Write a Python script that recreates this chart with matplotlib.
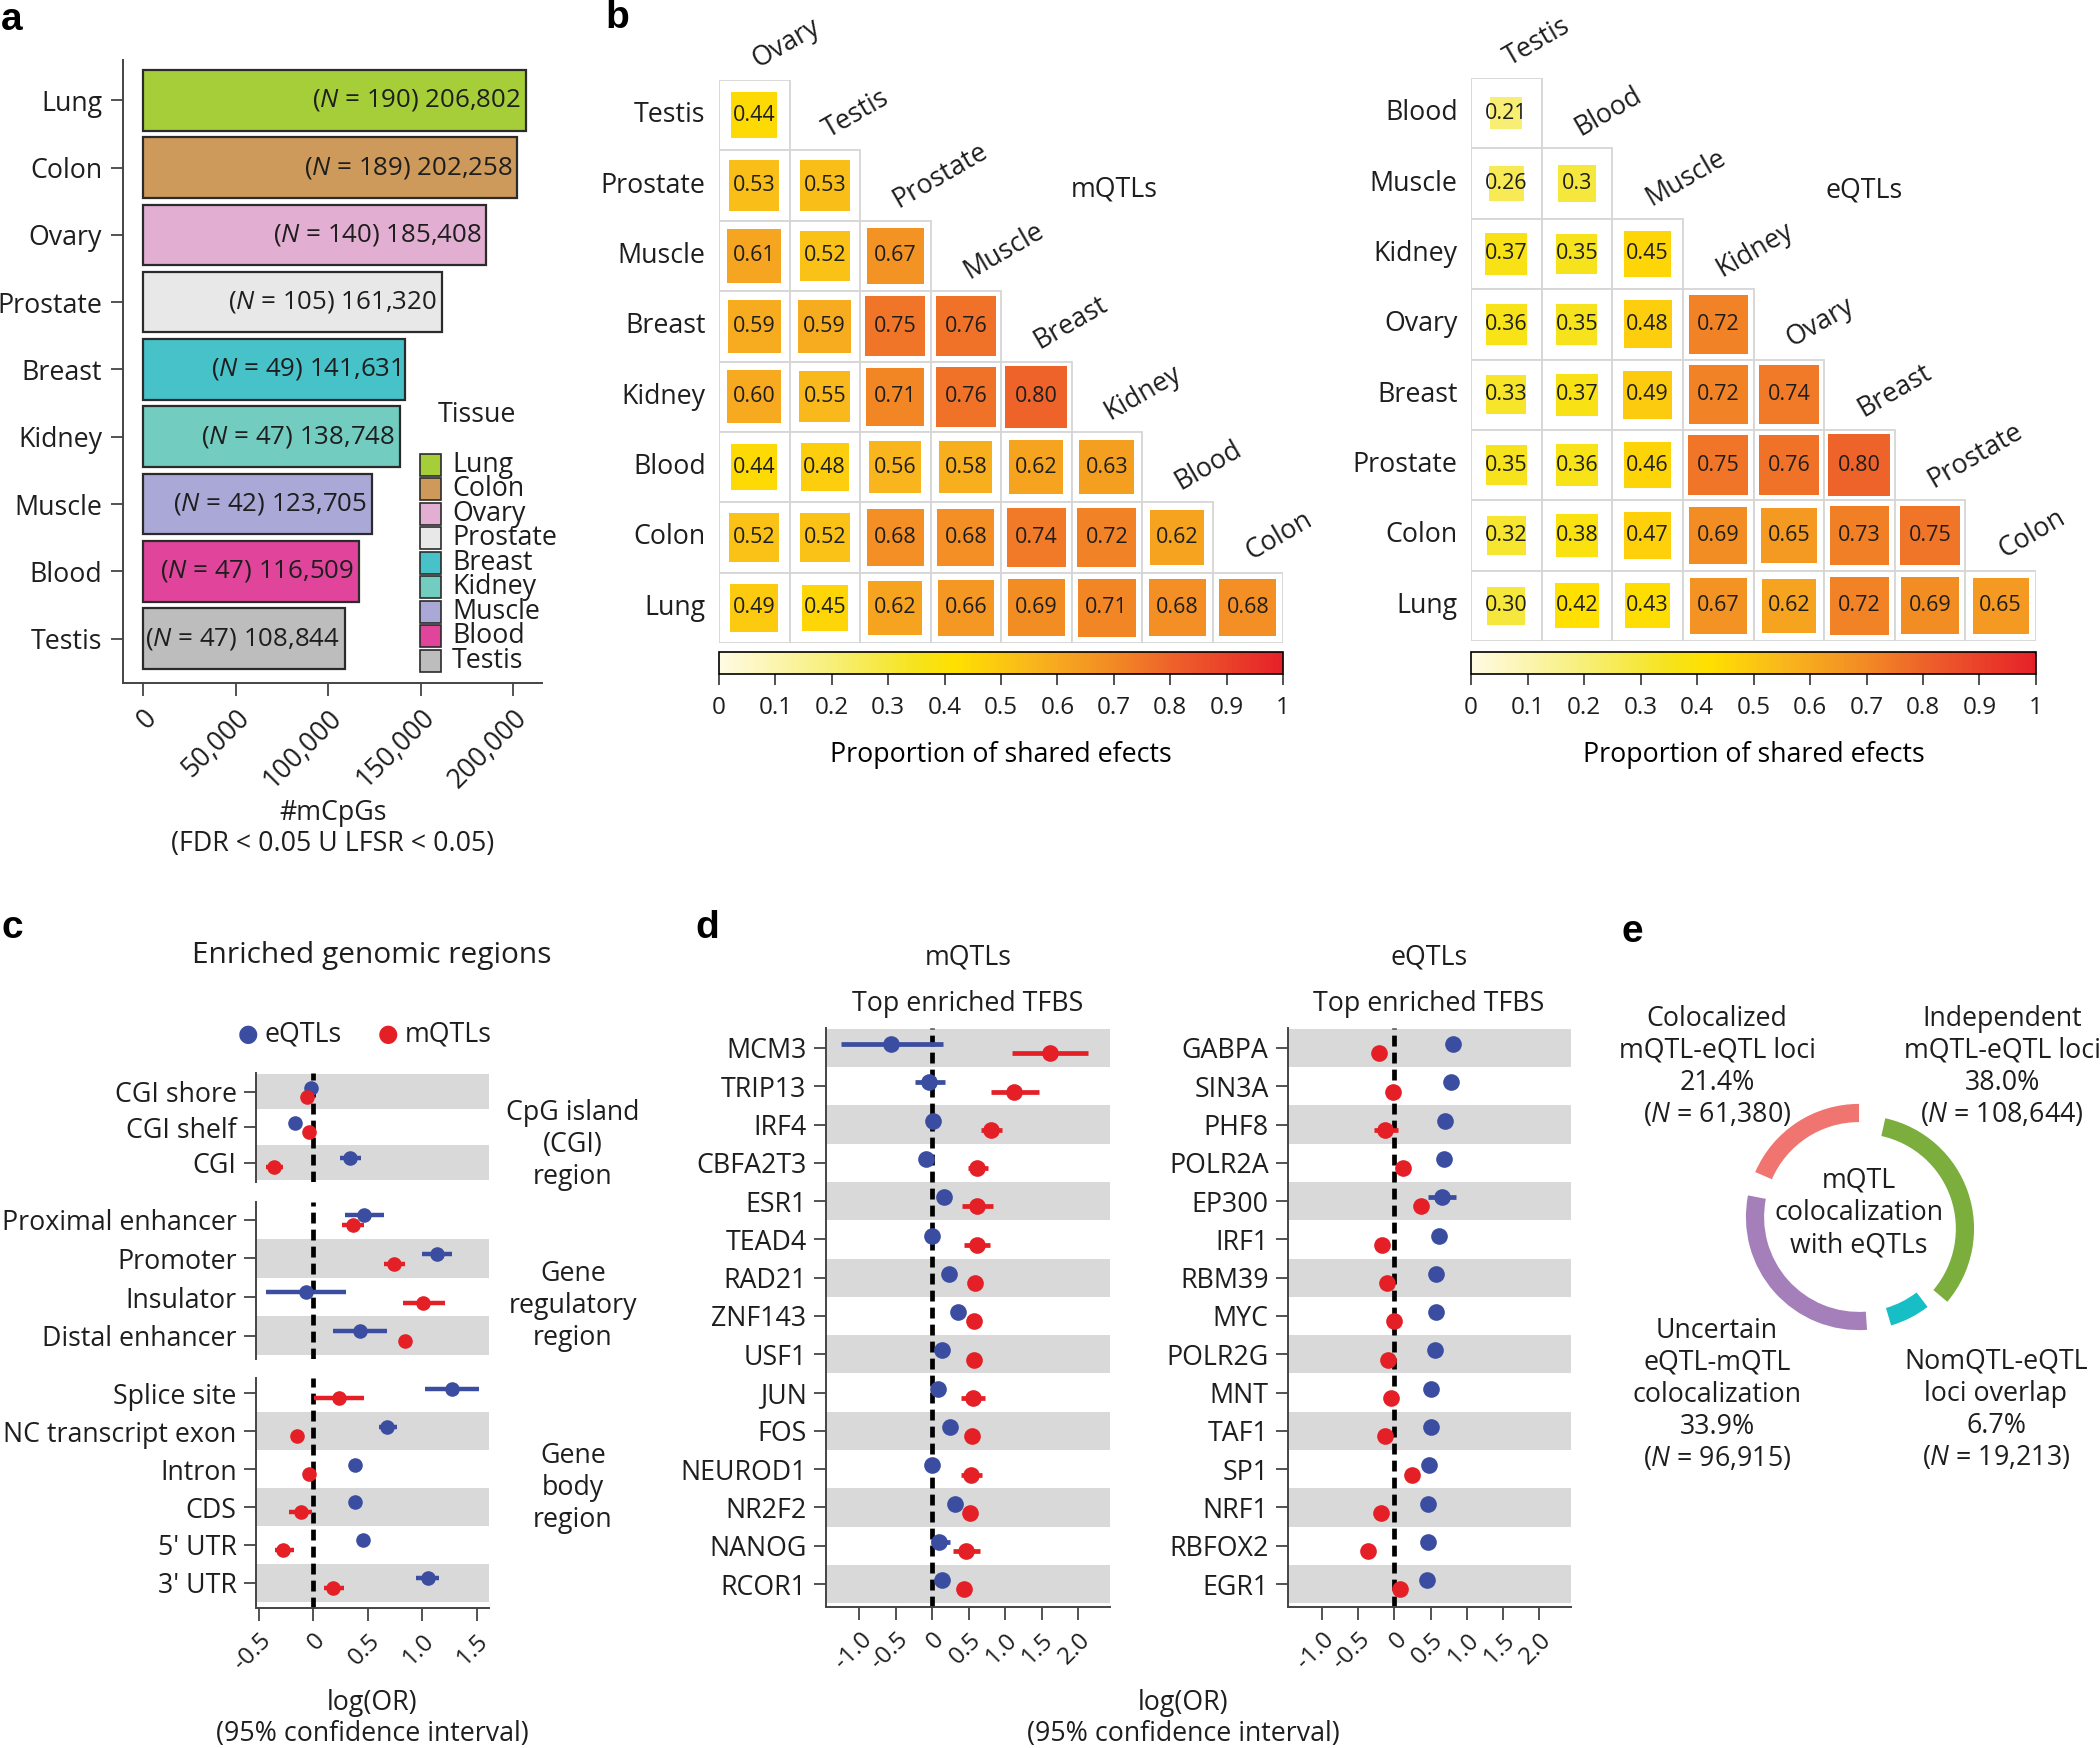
import numpy as np
import matplotlib as mpl
import matplotlib.pyplot as plt
from matplotlib.colors import LinearSegmentedColormap, Normalize
from matplotlib.patches import Rectangle

plt.rcParams['font.family'] = ['Open Sans', 'DejaVu Sans']
plt.rcParams['mathtext.fontset'] = 'custom'
plt.rcParams['mathtext.rm'] = 'Open Sans'
plt.rcParams['mathtext.it'] = 'Open Sans:italic'
plt.rcParams['axes.unicode_minus'] = False
plt.rcParams['text.color'] = '#1e1e1e'
plt.rcParams['xtick.color'] = '#444444'
plt.rcParams['ytick.color'] = '#444444'
plt.rcParams['xtick.labelcolor'] = '#1e1e1e'
plt.rcParams['ytick.labelcolor'] = '#1e1e1e'

# ---------------- data ----------------
# a: mCpGs per tissue
tissues = ['Lung', 'Colon', 'Ovary', 'Prostate', 'Breast', 'Kidney', 'Muscle', 'Blood', 'Testis']
mcpgs = [206802, 202258, 185408, 161320, 141631, 138748, 123705, 116509, 108844]
sample_n = [190, 189, 140, 105, 49, 47, 42, 47, 47]
tissue_colors = ['#a6ce39', '#cd9a5b', '#e2aed2', '#e8e8e8', '#47c2c9',
                 '#72cdc0', '#a9a8d6', '#e0459b', '#bdbdbd']

# b: proportion of shared effects (lower triangles)
mqtl_rows = ['Testis', 'Prostate', 'Muscle', 'Breast', 'Kidney', 'Blood', 'Colon', 'Lung']
mqtl_cols = ['Ovary', 'Testis', 'Prostate', 'Muscle', 'Breast', 'Kidney', 'Blood', 'Colon']
mqtl_shared = [
    ['0.44'],
    ['0.53', '0.53'],
    ['0.61', '0.52', '0.67'],
    ['0.59', '0.59', '0.75', '0.76'],
    ['0.60', '0.55', '0.71', '0.76', '0.80'],
    ['0.44', '0.48', '0.56', '0.58', '0.62', '0.63'],
    ['0.52', '0.52', '0.68', '0.68', '0.74', '0.72', '0.62'],
    ['0.49', '0.45', '0.62', '0.66', '0.69', '0.71', '0.68', '0.68'],
]
eqtl_rows = ['Blood', 'Muscle', 'Kidney', 'Ovary', 'Breast', 'Prostate', 'Colon', 'Lung']
eqtl_cols = ['Testis', 'Blood', 'Muscle', 'Kidney', 'Ovary', 'Breast', 'Prostate', 'Colon']
eqtl_shared = [
    ['0.21'],
    ['0.26', '0.3'],
    ['0.37', '0.35', '0.45'],
    ['0.36', '0.35', '0.48', '0.72'],
    ['0.33', '0.37', '0.49', '0.72', '0.74'],
    ['0.35', '0.36', '0.46', '0.75', '0.76', '0.80'],
    ['0.32', '0.38', '0.47', '0.69', '0.65', '0.73', '0.75'],
    ['0.30', '0.42', '0.43', '0.67', '0.62', '0.72', '0.69', '0.65'],
]

# c: enriched genomic regions, log(OR) and 95% CI
cgi_labels = ['CGI shore', 'CGI shelf', 'CGI']
cgi_e = [-0.02, -0.17, 0.34]
cgi_e_lo = [-0.04, -0.19, 0.25]
cgi_e_hi = [0.0, -0.15, 0.44]
cgi_m = [-0.055, -0.035, -0.36]
cgi_m_lo = [-0.08, -0.06, -0.43]
cgi_m_hi = [-0.03, -0.01, -0.28]

reg_labels = ['Proximal enhancer', 'Promoter', 'Insulator', 'Distal enhancer']
reg_e = [0.47, 1.135, -0.065, 0.43]
reg_e_lo = [0.29, 1.0, -0.43, 0.18]
reg_e_hi = [0.65, 1.27, 0.30, 0.675]
reg_m = [0.365, 0.74, 1.01, 0.845]
reg_m_lo = [0.26, 0.65, 0.82, 0.82]
reg_m_hi = [0.47, 0.84, 1.21, 0.87]

body_labels = ['Splice site', 'NC transcript exon', 'Intron', 'CDS', "5' UTR", "3' UTR"]
body_e = [1.27, 0.68, 0.385, 0.38, 0.46, 1.05]
body_e_lo = [1.03, 0.60, 0.37, 0.36, 0.44, 0.945]
body_e_hi = [1.52, 0.77, 0.40, 0.40, 0.48, 1.155]
body_m = [0.24, -0.15, -0.04, -0.115, -0.275, 0.18]
body_m_lo = [0.01, -0.18, -0.07, -0.22, -0.35, 0.095]
body_m_hi = [0.47, -0.12, -0.01, -0.01, -0.18, 0.28]

# d: top enriched TFBS
tf_mqtl = ['MCM3', 'TRIP13', 'IRF4', 'CBFA2T3', 'ESR1', 'TEAD4', 'RAD21', 'ZNF143',
           'USF1', 'JUN', 'FOS', 'NEUROD1', 'NR2F2', 'NANOG', 'RCOR1']
tfm_e = [-0.57, -0.04, 0.01, -0.09, 0.165, 0.0, 0.23, 0.35, 0.13, 0.08, 0.24, 0.0, 0.31, 0.09, 0.13]
tfm_e_lo = [-1.26, -0.24, -0.02, -0.12, 0.13, -0.03, 0.20, 0.32, 0.10, 0.05, 0.21, -0.03, 0.28, -0.02, 0.10]
tfm_e_hi = [0.14, 0.17, 0.04, -0.06, 0.20, 0.03, 0.26, 0.38, 0.16, 0.11, 0.27, 0.03, 0.34, 0.24, 0.16]
tfm_m = [1.61, 1.12, 0.81, 0.62, 0.61, 0.61, 0.59, 0.57, 0.57, 0.56, 0.54, 0.535, 0.52, 0.46, 0.44]
tfm_m_lo = [1.10, 0.80, 0.67, 0.49, 0.41, 0.43, 0.56, 0.54, 0.54, 0.40, 0.51, 0.39, 0.49, 0.28, 0.41]
tfm_m_hi = [2.14, 1.46, 0.96, 0.76, 0.83, 0.79, 0.62, 0.60, 0.60, 0.73, 0.57, 0.685, 0.55, 0.65, 0.47]

tf_eqtl = ['GABPA', 'SIN3A', 'PHF8', 'POLR2A', 'EP300', 'IRF1', 'RBM39', 'MYC',
           'POLR2G', 'MNT', 'TAF1', 'SP1', 'NRF1', 'RBFOX2', 'EGR1']
tfe_e = [0.805, 0.78, 0.70, 0.69, 0.66, 0.62, 0.58, 0.57, 0.56, 0.51, 0.50, 0.48, 0.47, 0.46, 0.45]
tfe_e_lo = [0.78, 0.75, 0.67, 0.66, 0.47, 0.59, 0.55, 0.54, 0.53, 0.48, 0.47, 0.45, 0.44, 0.43, 0.42]
tfe_e_hi = [0.83, 0.81, 0.73, 0.72, 0.85, 0.65, 0.61, 0.60, 0.59, 0.54, 0.53, 0.51, 0.50, 0.49, 0.48]
tfe_m = [-0.21, -0.02, -0.13, 0.12, 0.37, -0.17, -0.10, -0.01, -0.09, -0.05, -0.13, 0.24, -0.19, -0.37, 0.08]
tfe_m_lo = [-0.24, -0.05, -0.28, 0.09, 0.34, -0.20, -0.13, -0.04, -0.12, -0.08, -0.16, 0.21, -0.22, -0.40, 0.05]
tfe_m_hi = [-0.18, 0.01, 0.05, 0.15, 0.40, -0.14, -0.07, 0.02, -0.06, -0.02, -0.10, 0.27, -0.16, -0.34, 0.11]

# e: colocalization
coloc_n = [61380, 96915, 19213, 108644]   # colocalized, uncertain, no overlap, independent
coloc_colors = ['#f07570', '#a57fba', '#17bec5', '#7bae3c']

# ---------------- figure ----------------
W, H = 2100, 1748
fig = plt.figure(figsize=(W / 100, H / 100), dpi=100)
FS = 19.3
blue = '#3a4da0'
red = '#e41f26'
band = '#d9d9d9'


def box(x0, y0, x1, y1):
    return [x0 / W, 1 - y1 / H, (x1 - x0) / W, (y1 - y0) / H]


def ftext(x, y, s, **kw):
    fig.text(x / W, 1 - y / H, s, **kw)


for lab, x, y in [('a', 12, 20), ('b', 617, 18), ('c', 12, 928), ('d', 707, 928), ('e', 1632, 932)]:
    ftext(x, y, lab, fontsize=28, fontweight='bold', family='Liberation Sans',
          ha='center', va='center', color='black')

# ---------------- a ----------------
ax = fig.add_axes(box(123, 60, 542, 683))
ypos = np.arange(len(tissues))
ax.barh(ypos, mcpgs, height=0.9, color=tissue_colors, edgecolor='#2b2b2b', linewidth=1.6)
for y, v, n in zip(ypos, mcpgs, sample_n):
    ax.text(v - 2500, y, f'($\\mathit{{N}}$ = {n}) {v:,}', ha='right', va='center', fontsize=18.6)
ax.set_xlim(-10800, 215500)
ax.set_ylim(8.66, -0.6)
ax.set_yticks(ypos, tissues)
xt = [0, 50000, 100000, 150000, 200000]
ax.set_xticks(xt, [f'{t:,}' for t in xt], rotation=45, ha='right', va='top', rotation_mode='anchor')
ax.spines[['top', 'right']].set_visible(False)
for s in ['left', 'bottom']:
    ax.spines[s].set_linewidth(1.4)
    ax.spines[s].set_color('#444444')
ax.tick_params(length=9, width=1.3, labelsize=FS, pad=6)

# legend drawn in axes fraction
ax.text(0.844, 0.43, 'Tissue', transform=ax.transAxes, ha='center', va='center', fontsize=FS)
for k, (t, c) in enumerate(zip(tissues, tissue_colors)):
    yc = 0.3504 - k * 0.0393
    ax.add_patch(Rectangle((0.71, yc - 0.0176), 0.05, 0.0352, transform=ax.transAxes,
                           facecolor=c, edgecolor='#2b2b2b', lw=1.2, clip_on=False))
    ax.text(0.785, yc, t, transform=ax.transAxes, ha='left', va='center', fontsize=FS)
ftext(333, 813, '#mCpGs', ha='center', va='center', fontsize=FS)
ftext(333, 844, '(FDR < 0.05 U LFSR < 0.05)', ha='center', va='center', fontsize=FS)

# ---------------- b ----------------
cmap = LinearSegmentedColormap.from_list('shared', [
    (0.0, '#fffbe4'), (0.2, '#f7ef78'), (0.35, '#f6e31c'), (0.42, '#ffe000'),
    (0.55, '#f9b81c'), (0.7, '#f28a25'), (0.8, '#ee632a'), (1.0, '#e62129')])


def triangle(rect, rows, cols, vals, title, title_xy):
    ax = fig.add_axes(rect)
    for i, row in enumerate(vals):
        for j, s in enumerate(row):
            v = float(s)
            ax.add_patch(Rectangle((j, i), 1, 1, facecolor='white', edgecolor='#d6d6d6', lw=1.3))
            side = np.sqrt(v) * 0.98
            ax.add_patch(Rectangle((j + 0.5 - side / 2, i + 0.5 - side / 2), side, side,
                                   facecolor=cmap(v), edgecolor='none'))
            ax.text(j + 0.5, i + 0.5, s, ha='center', va='center', fontsize=15.5)
    for i, r in enumerate(rows):
        ax.text(-0.19, i + 0.5, r, ha='right', va='center', fontsize=FS)
    for j, c in enumerate(cols):
        ax.text(j + 0.6, j - 0.09, c, ha='left', va='bottom', rotation=30,
                rotation_mode='anchor', fontsize=FS, clip_on=False)
    ax.text(title_xy[0], title_xy[1], title, ha='center', va='center', fontsize=FS)
    ax.set_xlim(0, 8)
    ax.set_ylim(8, 0)
    ax.axis('off')


def shared_bar(rect):
    cax = fig.add_axes(rect)
    cb = fig.colorbar(mpl.cm.ScalarMappable(norm=Normalize(0, 1), cmap=cmap),
                      cax=cax, orientation='horizontal')
    ticks = np.linspace(0, 1, 11)
    cb.set_ticks(ticks, labels=['0'] + [f'{t:.1f}' for t in ticks[1:-1]] + ['1'])
    cb.outline.set_linewidth(1.2)
    cax.tick_params(length=8, width=1.2, labelsize=17.5, pad=8, color='#333333')
    cax.set_xlabel('Proportion of shared efects', fontsize=FS, labelpad=15)


triangle(box(719, 80, 1283, 643), mqtl_rows, mqtl_cols, mqtl_shared, 'mQTLs', (5.6, 1.55))
shared_bar(box(719, 652, 1283, 674))
triangle(box(1471, 78, 2036, 641), eqtl_rows, eqtl_cols, eqtl_shared, 'eQTLs', (5.57, 1.6))
shared_bar(box(1471, 652, 2036, 674))


# ---------------- c / d ----------------
def forest(rect, labels, e, elo, ehi, m, mlo, mhi, xlim, ylim, band_start, ms, lw, dy_e, dy_m, bottom):
    ax = fig.add_axes(rect)
    y = np.arange(len(labels))
    for r in range(band_start, len(labels), 2):
        ax.axhspan(r - 0.5, r + 0.5, color=band, lw=0, zorder=0)
    ax.axvline(0, color='black', lw=3.4, dashes=(2.3, 1.3), zorder=1)
    ax.hlines(y + dy_e, elo, ehi, color=blue, lw=lw, zorder=2)
    ax.plot(e, y + dy_e, 'o', ms=ms, color=blue, mec='none', zorder=3)
    ax.hlines(y + dy_m, mlo, mhi, color=red, lw=lw, zorder=2)
    ax.plot(m, y + dy_m, 'o', ms=ms, color=red, mec='none', zorder=3)
    ax.set_xlim(*xlim)
    ax.set_ylim(*ylim)
    ax.set_yticks(y, labels)
    ax.spines[['top', 'right']].set_visible(False)
    for s in ['left', 'bottom']:
        ax.spines[s].set_linewidth(1.4)
        ax.spines[s].set_color('#444444')
    ax.tick_params(axis='y', length=9, width=1.3, labelsize=FS, pad=5)
    if not bottom:
        ax.spines['bottom'].set_visible(False)
        ax.set_xticks([])
    return ax


c_ticks = [-0.5, 0, 0.5, 1.0, 1.5]
c_tlabels = ['-0.5', '0', '0.5', '1.0', '1.5']
c_xlim = (-0.525, 1.614)
forest(box(256, 1073, 489, 1182), cgi_labels, cgi_e, cgi_e_lo, cgi_e_hi,
       cgi_m, cgi_m_lo, cgi_m_hi, c_xlim, (2.55, -0.53), 0, 10.5, 3.2, -0.12, 0.14, False)
forest(box(256, 1202, 489, 1359), reg_labels, reg_e, reg_e_lo, reg_e_hi,
       reg_m, reg_m_lo, reg_m_hi, c_xlim, (3.6, -0.46), 1, 10.5, 3.2, -0.12, 0.14, False)
axc3 = forest(box(256, 1378, 489, 1608), body_labels, body_e, body_e_lo, body_e_hi,
              body_m, body_m_lo, body_m_hi, c_xlim, (5.66, -0.4), 1, 10.5, 3.2, -0.12, 0.14, True)
axc3.set_xticks(c_ticks, c_tlabels, rotation=45, ha='right', va='top', rotation_mode='anchor')
axc3.tick_params(axis='x', length=9, width=1.3, labelsize=17.5, pad=6)

ftext(372, 955, 'Enriched genomic regions', ha='center', va='center', fontsize=21.5)
ftext(248, 1035, '\u25cf', ha='center', va='center', fontsize=17, color=blue)
ftext(303, 1035, 'eQTLs', ha='center', va='center', fontsize=FS)
ftext(388, 1035, '\u25cf', ha='center', va='center', fontsize=17, color=red)
ftext(448, 1035, 'mQTLs', ha='center', va='center', fontsize=FS)
ftext(573, 1145, 'CpG island\n(CGI)\nregion', ha='center', va='center', fontsize=FS, linespacing=1.2)
ftext(573, 1306, 'Gene\nregulatory\nregion', ha='center', va='center', fontsize=FS, linespacing=1.2)
ftext(573, 1488, 'Gene\nbody\nregion', ha='center', va='center', fontsize=FS, linespacing=1.2)
ftext(372, 1703, 'log(OR)', ha='center', va='center', fontsize=FS)
ftext(372, 1734, '(95% confidence interval)', ha='center', va='center', fontsize=FS)

d_ticks = [-1.0, -0.5, 0, 0.5, 1.0, 1.5, 2.0]
d_tlabels = ['-1.0', '-0.5', '0', '0.5', '1.0', '1.5', '2.0']
for rect, labs, e, elo, ehi, m, mlo, mhi, xl, title, tx in [
        (box(826, 1028, 1110, 1607), tf_mqtl, tfm_e, tfm_e_lo, tfm_e_hi, tfm_m, tfm_m_lo, tfm_m_hi,
         (-1.46, 2.44), 'mQTLs', 968),
        (box(1288, 1028, 1571, 1607), tf_eqtl, tfe_e, tfe_e_lo, tfe_e_hi, tfe_m, tfe_m_lo, tfe_m_hi,
         (-1.47, 2.44), 'eQTLs', 1429)]:
    axd = forest(rect, labs, e, elo, ehi, m, mlo, mhi, xl, (14.6, -0.52), 0, 12, 3.4, -0.1, 0.14, True)
    axd.set_xticks(d_ticks, d_tlabels, rotation=45, ha='right', va='top', rotation_mode='anchor')
    axd.tick_params(axis='x', length=9, width=1.3, labelsize=17.5, pad=6)
    ftext(tx, 957, title, ha='center', va='center', fontsize=FS)
    ftext(tx, 1004, 'Top enriched TFBS', ha='center', va='center', fontsize=FS)
ftext(1183, 1703, 'log(OR)', ha='center', va='center', fontsize=FS)
ftext(1183, 1734, '(95% confidence interval)', ha='center', va='center', fontsize=FS)

# ---------------- e ----------------
axe = fig.add_axes(box(1729, 1087, 1989, 1347))
gap = sum(coloc_n) * 0.04
vals, cols = [], []
for n, c in zip(coloc_n, coloc_colors):
    vals += [n, gap]
    cols += [c, 'none']
wedges, _ = axe.pie(vals, colors=cols, radius=0.87, startangle=90, counterclock=True,
                    wedgeprops=dict(width=0.14, edgecolor='none'))
# the green arc sits slightly lower in the original artwork
wedges[6].set_center((0.015, -0.09))
axe.set_xlim(-1, 1)
axe.set_ylim(-1, 1)
axe.set_aspect('equal')
axe.axis('off')

ls = 1.2
ftext(1717, 1067, 'Colocalized\nmQTL-eQTL loci\n21.4%\n($\\mathit{N}$ = 61,380)',
      ha='center', va='center', fontsize=FS, linespacing=ls)
ftext(2002, 1067, 'Independent\nmQTL-eQTL loci\n38.0%\n($\\mathit{N}$ = 108,644)',
      ha='center', va='center', fontsize=FS, linespacing=ls)
ftext(1859, 1213, 'mQTL\ncolocalization\nwith eQTLs', ha='center', va='center', fontsize=FS, linespacing=ls)
ftext(1717, 1395, 'Uncertain\neQTL-mQTL\ncolocalization\n33.9%\n($\\mathit{N}$ = 96,915)',
      ha='center', va='center', fontsize=FS, linespacing=ls)
ftext(1996, 1410, 'NomQTL-eQTL\nloci overlap\n6.7%\n($\\mathit{N}$ = 19,213)',
      ha='center', va='center', fontsize=FS, linespacing=ls)

fig.savefig('out.png', dpi=100, facecolor='white')
